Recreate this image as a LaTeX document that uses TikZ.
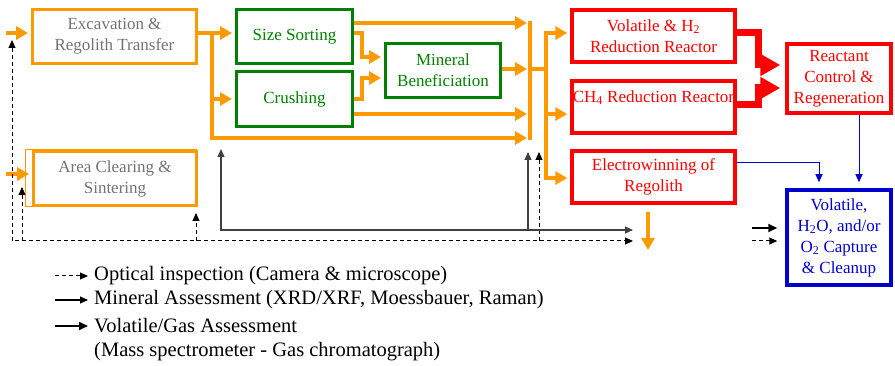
\documentclass[tikz,border=0pt]{standalone}
\usepackage{fontspec}
\setmainfont{Liberation Serif}
\usetikzlibrary{arrows.meta}
\definecolor{cor}{RGB}{255,153,0}
\definecolor{cgr}{RGB}{0,128,0}
\definecolor{cgy}{RGB}{115,115,115}
\definecolor{crd}{RGB}{255,0,0}
\definecolor{cbl}{RGB}{0,0,204}
\begin{document}
\begin{tikzpicture}[x=1pt,y=-1pt,
  box/.style={rectangle, inner sep=0pt, align=center, font=\fontsize{17}{21}\selectfont},
  obox/.style={box, draw=cor, line width=3pt, text=cgy},
  gbox/.style={box, draw=cgr, line width=3pt, text=cgr},
  rbox/.style={box, draw=crd, line width=3.5pt, text=crd},
  bbox/.style={box, draw=cbl, line width=3.5pt, text=cbl},
  oline/.style={draw=cor, line width=4pt, line cap=rect},
  oarr/.style={draw=cor, line width=4pt, -{Triangle[length=12pt,width=13pt]}, shorten >=3pt},
  rarr/.style={draw=crd, line width=7pt, line join=miter, -{Triangle[length=20pt,width=21pt]}, shorten >=5pt},
  barr/.style={draw=cbl, line width=1pt, -{Triangle[length=8pt,width=7pt]}, shorten >=6pt},
  darr/.style={draw=black, line width=1pt, dash pattern=on 4pt off 3pt, -{Triangle[length=8pt,width=7pt]}},
  marr/.style={draw=black!75, line width=1.2pt, -{Triangle[length=8pt,width=7pt]}},
  varr/.style={draw=black, line width=2pt, -{Triangle[length=9pt,width=8pt]}},
  legtext/.style={anchor=west, inner sep=0pt, font=\fontsize{20.5}{25}\selectfont}
]
\useasboundingbox (0,0) rectangle (895,366);

% boxes
\node[draw=cor, line width=1pt, inner sep=0pt, minimum width=171pt, minimum height=57pt] (areab) at (110.5,178.5) {};
\node[obox, minimum width=164pt, minimum height=54pt] (exc) at (114.5,36.5) {Excavation \&\\Regolith Transfer};
\node[obox, minimum width=163pt, minimum height=54pt] (area) at (115,178.5) {Area Clearing \&\\Sintering};
\node[gbox, minimum width=116pt, minimum height=54pt] (ss) at (294.5,36.5) {Size Sorting};
\node[gbox, minimum width=116pt, minimum height=55pt] (cr) at (294.5,99) {Crushing};
\node[gbox, minimum width=115pt, minimum height=54pt] (mb) at (443,70.5) {Mineral\\Beneficiation};
\node[rbox, minimum width=163pt, minimum height=52pt] (vr) at (653.5,36) {Volatile \& H\textsubscript{2}\\Reduction Reactor};
\node[rbox, minimum width=163pt, minimum height=52pt] (ch) at (653.5,107) {CH\textsubscript{4} Reduction Reactor\\\mbox{}};
\node[rbox, minimum width=163pt, minimum height=52pt] (ew) at (653.5,177) {Electrowinning of\\Regolith};
\node[rbox, minimum width=104pt, minimum height=69pt] (rc) at (839,78.5) {Reactant\\Control \&\\Regeneration};
\node[bbox, minimum width=104pt, minimum height=95pt] (vc) at (839,237.5) {Volatile,\\H\textsubscript{2}O, and/or\\O\textsubscript{2} Capture\\\& Cleanup};

% orange flow
\coordinate (in1) at (6,33);
\coordinate (in2) at (6,174);
\coordinate (j1) at (212,33);
\coordinate (j2) at (212,99);
\coordinate (j3) at (212,138);
\coordinate (b2) at (362,57);
\coordinate (b3) at (362,78);
\coordinate (c1) at (530,23);
\coordinate (c2) at (530,138);
\coordinate (c3) at (530,114);
\coordinate (c4) at (530,69);
\coordinate (k0) at (546,69);
\coordinate (k1) at (546,33);
\coordinate (k2) at (546,114);
\coordinate (k3) at (546,178);
\coordinate (d1) at (648,212);
\coordinate (d2) at (648,250);

\draw[oarr] (in1) -- (exc.west|-in1);
\draw[oarr] (in2) -- (area.west|-in2);
\draw[oline] (exc.east|-j1) -- (j1);
\draw[oline] (j1) -- (j3);
\draw[oarr] (j1) -- (ss.west|-j1);
\draw[oarr] (j2) -- (cr.west|-j2);
\draw[oarr] (j3) -- (c2);
\draw[oarr] (ss.east|-c1) -- (c1);
\draw[oarr] (ss.east|-j1) -| (b2) -- (mb.west|-b2);
\draw[oarr] (cr.east|-j2) -| (b3) -- (mb.west|-b3);
\draw[oarr] (cr.east|-c3) -- (c3);
\draw[oarr] (mb.east|-c4) -- (c4);
\draw[oline] (c1) -- (c2);
\draw[oline] (c4) -- (k0);
\draw[oline] (k1) -- (k3);
\draw[oarr] (k1) -- (vr.west|-k1);
\draw[oarr] (k2) -- (ch.west|-k2);
\draw[oarr] (k3) -- (ew.west|-k3);
\draw[oarr, shorten >=0pt] (d1) -- (d2);

% red flow
\coordinate (r1) at (758,33);
\coordinate (r2) at (758,65);
\coordinate (r3) at (758,105);
\coordinate (r4) at (758,88);
\draw[rarr] (vr.east|-r1) -| (r2) -- (rc.west|-r2);
\draw[rarr] (ch.east|-r3) -| (r4) -- (rc.west|-r4);

% blue flow
\coordinate (u1) at (859,150);
\coordinate (u2) at (819,163);
\draw[barr] (rc.south-|u1) -- (vc.north-|u1);
\draw[barr] (ew.east|-u2) -| (vc.north-|u2);

% optical inspection (dashed)
\coordinate (o1) at (12,40);
\coordinate (o2) at (12,241);
\coordinate (o3) at (633,241);
\coordinate (p1) at (22,241);
\coordinate (p1t) at (22,187);
\coordinate (p2) at (196,241);
\coordinate (p2t) at (196,213);
\coordinate (p3) at (539,241);
\coordinate (p3t) at (539,152);
\draw[darr, {Triangle[length=8pt,width=7pt]}-{Triangle[length=8pt,width=7pt]}] (o1) -- (o2) -- (o3);
\draw[darr] (p1) -- (p1t);
\draw[darr] (p2) -- (p2t);
\draw[darr] (p3) -- (p3t);

% mineral assessment (solid)
\coordinate (q0) at (221,230);
\coordinate (q1) at (221,149);
\coordinate (q2) at (633,230);
\coordinate (q3) at (528,230);
\coordinate (q3t) at (528,152);
\draw[marr, {Triangle[length=8pt,width=7pt]}-{Triangle[length=8pt,width=7pt]}] (q1) -- (q0) -- (q2);
\draw[marr] (q3) -- (q3t);

% arrows into capture box
\coordinate (v1) at (752,228);
\coordinate (v2) at (752,241);
\draw[varr, shorten >=8pt] (v1) -- (vc.west|-v1);
\draw[darr, shorten >=8pt] (v2) -- (vc.west|-v2);

% legend
\coordinate (la1) at (55,276); \coordinate (lb1) at (88,276);
\coordinate (la2) at (55,300); \coordinate (lb2) at (88,300);
\coordinate (la3) at (55,326); \coordinate (lb3) at (88,326);
\draw[darr] (la1) -- (lb1);
\draw[marr, draw=black] (la2) -- (lb2);
\draw[varr] (la3) -- (lb3);
\node[legtext] (lt1) at (94,276) {Optical inspection (Camera \& microscope)};
\node[legtext] (lt2) at (94,300) {Mineral Assessment (XRD/XRF, Moessbauer, Raman)};
\node[legtext] (lt3) at (94,326) {Volatile/Gas Assessment};
\node[legtext] (lt4) at (94,352) {(Mass spectrometer - Gas chromatograph)};
\end{tikzpicture}
\end{document}
